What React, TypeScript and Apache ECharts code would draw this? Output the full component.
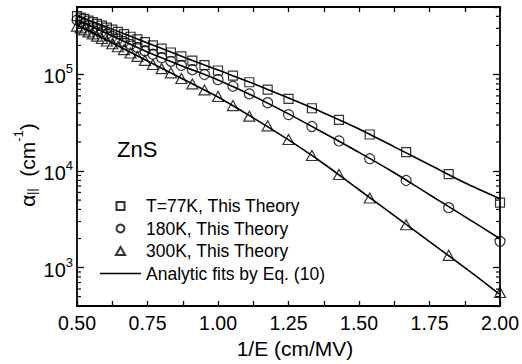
import React, { useEffect, useRef } from "react";
import * as echarts from "echarts";

// 1/E (cm/MV) at which the impact-ionization coefficient was computed
const invE = [
  0.5, 0.513, 0.526, 0.541, 0.556, 0.571, 0.588, 0.606, 0.625, 0.645, 0.667,
  0.69, 0.714, 0.741, 0.769, 0.8, 0.833, 0.87, 0.909, 0.952, 1.0, 1.053, 1.111,
  1.176, 1.25, 1.333, 1.429, 1.538, 1.667, 1.818, 2.0,
];

// alpha (cm^-1), this theory
const t77 = [
  402000, 389000, 376000, 361000, 348000, 335000, 320000, 306000, 291000,
  276000, 262000, 246000, 231000, 216000, 200000, 185000, 169000, 154000,
  139000, 125000, 110000, 97200, 83100, 69700, 55800, 44700, 33900, 23900,
  15700, 9300, 4700,
];
const t180 = [
  366000, 351000, 336000, 320000, 306000, 292000, 278000, 263000, 248000,
  234000, 219000, 205000, 191000, 176000, 162000, 149000, 137000, 124000,
  112000, 100000, 88400, 75500, 62900, 51000, 38400, 28900, 20500, 13400, 7980,
  4170, 1870,
];
const t300 = [
  317000, 304000, 290000, 276000, 263000, 250000, 236000, 222000, 208000,
  194000, 181000, 167000, 154000, 140000, 127000, 115000, 104000, 90900, 79800,
  69200, 59200, 47600, 37000, 29400, 21200, 14500, 9210, 5250, 2780, 1340, 552,
];

// analytic fits, Eq. (10)
const fitX = [0.5, 0.625, 0.75, 0.875, 1.0, 1.125, 1.25, 1.375, 1.5, 1.625, 1.75, 1.875, 2.0];
const fit77 = [407000, 295000, 212000, 153000, 111000, 80700, 57100, 40000, 27300, 17800, 11600, 7560, 5160];
const fit180 = [370000, 250000, 171000, 122000, 87700, 59900, 39100, 24800, 15600, 9590, 5680, 3370, 1990];
const fit300 = [325000, 212000, 138000, 89800, 58500, 35500, 21000, 11900, 6400, 3450, 1860, 1000, 526];

// minor ticks of the logarithmic alpha axis
const yMinorTicks = [
  500, 600, 700, 800, 900, 2000, 3000, 4000, 5000, 6000, 7000, 8000, 9000,
  20000, 30000, 40000, 50000, 60000, 70000, 80000, 90000, 200000, 300000, 400000,
];

const names = ["T=77K, This Theory", "180K, This Theory", "300K, This Theory"];
const fitName = "Analytic fits by Eq. (10)";

const FONT = "Liberation Sans, Arial, Helvetica, sans-serif";

const pairs = (xs: number[], ys: number[]) => xs.map((x, i) => [x, ys[i]]);

export default function App() {
  const ref = useRef<HTMLDivElement>(null);

  useEffect(() => {
    if (!ref.current) return;
    const chart = echarts.init(ref.current, undefined, { renderer: "svg" });

    const markerStyle = {
      color: "rgba(0,0,0,0)",
      borderColor: "#000",
      borderWidth: 1.2,
    };

    const xCommon = {
      type: "value" as const,
      min: 0.5,
      max: 2.0,
      interval: 0.25,
      axisLine: { show: true, onZero: false, lineStyle: { color: "#000", width: 1.8 } },
      axisTick: { show: true, inside: true, length: 5, lineStyle: { color: "#000", width: 1.3 } },
      minorTick: { show: true, splitNumber: 2, length: 5, lineStyle: { color: "#000", width: 1.3 } },
      splitLine: { show: false },
      minorSplitLine: { show: false },
    };

    const yCommon = {
      type: "log" as const,
      logBase: 10,
      min: 400,
      max: 500000,
      axisLine: { show: true, onZero: false, lineStyle: { color: "#000", width: 1.8 } },
      axisTick: { show: true, inside: true, length: 7, lineStyle: { color: "#000", width: 1.3 } },
      splitLine: { show: false },
    };

    const scatter = (name: string, data: number[], symbol: string, size: number | number[]) => ({
      type: "scatter" as const,
      name,
      data: pairs(invE, data),
      symbol,
      symbolSize: size,
      itemStyle: markerStyle,
      z: 3,
    });

    const fitLine = (data: number[]) => ({
      type: "line" as const,
      name: fitName,
      data: pairs(fitX, data),
      symbol: "none",
      showSymbol: false,
      smooth: 0.3,
      lineStyle: { color: "#000", width: 1.6 },
      itemStyle: { color: "#000" },
      z: 2,
    });

    chart.setOption({
      animation: false,
      backgroundColor: "#fff",
      textStyle: { fontFamily: FONT },
      grid: { left: 77, top: 7, right: 21, bottom: 58, containLabel: false },
      xAxis: [
        {
          ...xCommon,
          position: "bottom",
          axisLabel: {
            color: "#000",
            fontSize: 19.5,
            fontFamily: FONT,
            margin: 7,
            formatter: (v: number) => v.toFixed(2),
          },
        },
        { ...xCommon, position: "top", axisLabel: { show: false } },
      ],
      yAxis: [
        {
          ...yCommon,
          position: "left",
          axisLabel: {
            color: "#000",
            margin: 4,
            showMinLabel: false,
            showMaxLabel: false,
            formatter: (v: number) => {
              const p = Math.log10(v);
              if (Math.abs(p - Math.round(p)) > 1e-6) return "";
              return `{b|10}{s|${Math.round(p)}}`;
            },
            rich: {
              b: { fontSize: 20, fontFamily: FONT, color: "#000", lineHeight: 24, verticalAlign: "bottom" },
              s: { fontSize: 13, fontFamily: FONT, color: "#000", lineHeight: 24, verticalAlign: "top" },
            },
          },
        },
        { ...yCommon, position: "right", axisLabel: { show: false } },
      ],
      legend: {
        orient: "vertical",
        left: 95,
        top: 192,
        itemWidth: 41,
        itemHeight: 8,
        itemGap: 4.5,
        selectedMode: false,
        symbolKeepAspect: true,
        data: [
          { name: names[0], icon: "path://M0,0H10V10H0Z" },
          { name: names[1], icon: "circle" },
          { name: names[2], icon: "path://M5,0L10.5,9.5H-0.5Z" },
          { name: fitName, icon: "path://M0,0H41V1.6H0Z" },
        ],
        textStyle: { color: "#000", fontSize: 17.5, fontFamily: FONT, lineHeight: 18 },
      },
      graphic: [
        {
          type: "text",
          left: 117,
          top: 138,
          style: { text: "ZnS", fontSize: 22, fontFamily: FONT, fill: "#000" },
        },
        {
          type: "text",
          x: 295,
          y: 348,
          style: {
            text: "1/E (cm/MV)",
            fontSize: 21,
            fontFamily: FONT,
            fill: "#000",
            align: "center",
            verticalAlign: "middle",
          },
        },
        {
          type: "text",
          x: 25,
          y: 165,
          rotation: Math.PI / 2,
          style: {
            text: "{a|α}{sub|||}{a|  (cm}{sup|-1}{a|)}",
            align: "center",
            verticalAlign: "middle",
            rich: {
              a: { fontSize: 21, fontFamily: FONT, fill: "#000", lineHeight: 26, verticalAlign: "bottom" },
              sub: { fontSize: 12, fontFamily: FONT, fill: "#000", lineHeight: 26, verticalAlign: "bottom" },
              sup: { fontSize: 13, fontFamily: FONT, fill: "#000", lineHeight: 26, verticalAlign: "top" },
            },
          },
        },
      ],
      series: [
        fitLine(fit77),
        fitLine(fit180),
        fitLine(fit300),
        scatter(names[0], t77, "rect", 9),
        scatter(names[1], t180, "circle", 10),
        scatter(names[2], t300, "triangle", [11, 10]),
        {
          type: "custom",
          name: "minor-ticks",
          silent: true,
          clip: false,
          z: 5,
          data: yMinorTicks.map((v) => [0.5, v]),
          encode: { x: 0, y: 1 },
          renderItem: (params: any, api: any) => {
            const cs = params.coordSys;
            const y = api.coord([0.5, api.value(1)])[1];
            const style = { stroke: "#000", lineWidth: 1.2 };
            return {
              type: "group",
              children: [
                { type: "line", shape: { x1: cs.x, y1: y, x2: cs.x + 4, y2: y }, style },
                { type: "line", shape: { x1: cs.x + cs.width - 4, y1: y, x2: cs.x + cs.width, y2: y }, style },
              ],
            };
          },
        },
      ],
    });

    return () => chart.dispose();
  }, []);

  return <div ref={ref} style={{ width: 522, height: 364, position: "absolute", left: 0, top: 0 }} />;
}
